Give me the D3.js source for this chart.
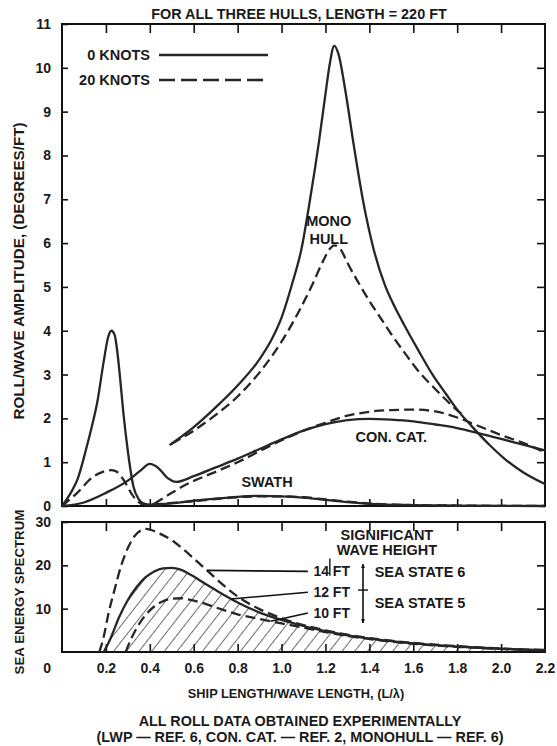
<!DOCTYPE html>
<html>
<head>
<meta charset="utf-8">
<script src="https://cdn.jsdelivr.net/npm/d3@7"></script>
<style>
  body { margin: 0; background: #fff; }
  text { font-family: "Liberation Sans", Arial, sans-serif; font-weight: bold; fill: #1a1a1a; }
</style>
</head>
<body>
<svg id="chart"></svg>
<script>
// roll / wave amplitude curves, [L/lambda, deg/ft]
const swath0 = [[0,0],[0.04,0.3],[0.07,0.6],[0.11,1.3],[0.14,1.9],[0.16,2.35],[0.19,3.3],[0.21,3.85],[0.225,4.0],[0.24,3.9],[0.25,3.6],[0.265,2.9],[0.28,2.1],[0.3,1.25],[0.325,0.45],[0.35,0.15],[0.37,0.06],[0.4,0.03],[0.45,0.04],[0.5,0.06],[0.6,0.12],[0.7,0.17],[0.8,0.21],[0.9,0.23],[1.0,0.22],[1.1,0.19],[1.2,0.14],[1.3,0.09],[1.4,0.05],[1.6,0.02],[1.8,0.01],[2.2,0]];
const swath20 = [[0,0],[0.067,0.29],[0.143,0.67],[0.2,0.8],[0.226,0.82],[0.25,0.78],[0.28,0.6],[0.325,0.22],[0.37,0.04],[0.42,0.04],[0.5,0.07],[0.6,0.11],[0.7,0.16],[0.8,0.2],[0.9,0.22],[1.0,0.22],[1.1,0.2],[1.2,0.15],[1.3,0.1],[1.4,0.06],[1.6,0.02],[1.8,0.01],[2.2,0]];
const conCat0 = [[0,0],[0.1,0.08],[0.2,0.3],[0.3,0.58],[0.36,0.82],[0.4,0.96],[0.44,0.86],[0.48,0.64],[0.52,0.55],[0.6,0.68],[0.7,0.88],[0.8,1.08],[0.9,1.3],[1.0,1.52],[1.1,1.72],[1.2,1.87],[1.3,1.96],[1.4,1.99],[1.5,1.97],[1.6,1.93],[1.7,1.86],[1.8,1.78],[1.9,1.66],[2.0,1.53],[2.1,1.4],[2.2,1.27]];
const conCat20 = [[0.42,0.05],[0.5,0.3],[0.57,0.5],[0.7,0.78],[0.8,1.0],[0.9,1.25],[1.0,1.5],[1.1,1.72],[1.2,1.9],[1.3,2.06],[1.4,2.15],[1.5,2.19],[1.6,2.2],[1.7,2.16],[1.8,2.02],[1.9,1.82],[2.0,1.62],[2.1,1.44],[2.2,1.22]];
const mono0 = [[0.49,1.39],[0.6,1.8],[0.7,2.25],[0.8,2.75],[0.9,3.35],[0.96,3.85],[1.0,4.3],[1.05,5.1],[1.09,5.85],[1.13,7.0],[1.17,8.3],[1.2,9.4],[1.22,10.1],[1.24,10.5],[1.26,10.3],[1.29,9.5],[1.33,8.2],[1.37,7.0],[1.42,5.85],[1.47,5.05],[1.52,4.5],[1.56,4.12],[1.62,3.58],[1.69,2.98],[1.75,2.55],[1.8,2.2],[1.87,1.8],[1.95,1.38],[2.02,1.06],[2.1,0.77],[2.2,0.5]];
const mono20 = [[0.5,1.42],[0.6,1.72],[0.7,2.08],[0.8,2.5],[0.9,3.05],[1.0,3.75],[1.08,4.45],[1.14,5.05],[1.19,5.6],[1.22,5.87],[1.24,5.95],[1.27,5.85],[1.3,5.55],[1.35,5.1],[1.4,4.68],[1.45,4.3],[1.5,3.92],[1.56,3.5],[1.62,3.1],[1.69,2.72],[1.75,2.42],[1.8,2.18],[1.83,2.07]];

// sea energy spectra
const wave14 = [[0.17,0],[0.19,3.5],[0.21,8.5],[0.24,14.5],[0.27,20],[0.3,24],[0.33,26.7],[0.36,28.1],[0.38,28.4],[0.41,28.1],[0.45,27.2],[0.5,25.8],[0.55,23.8],[0.6,21.6],[0.65,19.3],[0.7,17],[0.75,14.8],[0.8,12.8],[0.9,9.9],[1.0,7.8],[1.1,6.2],[1.2,5.0],[1.3,4.0],[1.4,3.2],[1.5,2.6],[1.6,2.1],[1.7,1.7],[1.8,1.35],[1.9,1.05],[2.0,0.8],[2.1,0.6],[2.2,0.45]];
const wave12 = [[0.19,0],[0.22,3],[0.26,8],[0.3,12],[0.34,15],[0.38,17.2],[0.42,18.6],[0.46,19.3],[0.5,19.4],[0.54,19],[0.58,18],[0.62,16.8],[0.66,15.5],[0.7,14.3],[0.75,12.8],[0.8,11.4],[0.9,9.1],[1.0,7.4],[1.1,6.0],[1.2,4.8],[1.3,3.85],[1.4,3.1],[1.5,2.5],[1.6,2.0],[1.7,1.6],[1.8,1.25],[1.9,0.98],[2.0,0.75],[2.1,0.55],[2.2,0.4]];
const wave10 = [[0.29,0],[0.31,2.5],[0.34,5.5],[0.38,8.5],[0.42,10.5],[0.46,11.7],[0.5,12.3],[0.54,12.4],[0.58,12.1],[0.62,11.6],[0.66,11],[0.7,10.3],[0.8,8.7],[0.9,7.6],[1.0,6.6],[1.1,5.6],[1.2,4.6],[1.3,3.7],[1.4,3.0],[1.5,2.4],[1.6,1.9],[1.7,1.5],[1.8,1.2],[1.9,0.92],[2.0,0.7],[2.1,0.52],[2.2,0.38]];

const xTicks = [0.2,0.4,0.6,0.8,1.0,1.2,1.4,1.6,1.8,2.0,2.2];
const topYTicks = [0,1,2,3,4,5,6,7,8,9,10,11];
const botYTicks = [10,20,30];
const legendLabels = ["0 KNOTS", "20 KNOTS"];
const waveLabels = ["14 FT", "12 FT", "10 FT"];
const seaStates = ["SEA STATE 6", "SEA STATE 5"];

const W = 557, H = 746;
const svg = d3.select("#chart").attr("width", W).attr("height", H);

const x = d3.scaleLinear().domain([0, 2.2]).range([62, 545]);
const yTop = d3.scaleLinear().domain([0, 11]).range([506, 24]);
const yBot = d3.scaleLinear().domain([0, 30]).range([652, 522]);

const ink = "#262626";
const dash = "10,5";
const fs = 14.5;

// hatch pattern for the 12 ft spectrum
svg.append("defs").append("pattern")
    .attr("id", "hatch")
    .attr("patternUnits", "userSpaceOnUse")
    .attr("width", 10).attr("height", 10)
    .attr("patternTransform", "rotate(38)")
  .append("line")
    .attr("x1", 0).attr("y1", 0).attr("x2", 0).attr("y2", 10)
    .attr("stroke", "#1e1e1e").attr("stroke-width", 1.3);

// ---- axes (ticks inside the frame) ----
function styleAxis(g) {
  g.select(".domain").remove();
  g.selectAll("line").attr("stroke", "#111").attr("stroke-width", 1.6);
  g.selectAll("text").attr("font-size", 14).attr("font-family", "Liberation Sans, Arial, sans-serif").attr("font-weight", "bold").attr("fill", "#1a1a1a");
}

// top panel
svg.append("g").attr("transform", "translate(62,0)")
    .call(d3.axisLeft(yTop).tickValues(topYTicks).tickSizeInner(-6).tickSizeOuter(0).tickPadding(11))
    .call(styleAxis);
svg.append("g").attr("transform", "translate(545,0)")
    .call(d3.axisLeft(yTop).tickValues(topYTicks.slice(1, -1)).tickSize(8).tickFormat(""))
    .call(styleAxis);
svg.append("g").attr("transform", "translate(0,24)")
    .call(d3.axisBottom(x).tickValues(xTicks.slice(0, -1)).tickSize(9).tickFormat(""))
    .call(styleAxis);
svg.append("g").attr("transform", "translate(0,506)")
    .call(d3.axisTop(x).tickValues(xTicks.slice(0, -1)).tickSize(7).tickFormat(""))
    .call(styleAxis);

// bottom panel
svg.append("g").attr("transform", "translate(62,0)")
    .call(d3.axisLeft(yBot).tickValues(botYTicks).tickSizeInner(-6).tickSizeOuter(0).tickPadding(11))
    .call(styleAxis);
svg.append("g").attr("transform", "translate(545,0)")
    .call(d3.axisLeft(yBot).tickValues([10, 20]).tickSize(8).tickFormat(""))
    .call(styleAxis);
svg.append("g").attr("transform", "translate(0,522)")
    .call(d3.axisBottom(x).tickValues(xTicks.slice(0, -1)).tickSize(9).tickFormat(""))
    .call(styleAxis);
svg.append("g").attr("transform", "translate(0,652)")
    .call(d3.axisBottom(x).tickValues(xTicks).tickSizeInner(-8).tickSizeOuter(0).tickPadding(11).tickFormat(d3.format(".1f")))
    .call(styleAxis)
    .call(g => g.selectAll(".tick line").filter(d => d === 2.2).remove());

svg.append("text").attr("x", 51).attr("y", yBot(0) + 11).attr("dy", "0.71em")
    .attr("text-anchor", "end").attr("font-size", 14).text("0");

// frames
svg.append("rect").attr("x", x(0)).attr("y", yTop(11)).attr("width", x(2.2) - x(0)).attr("height", yTop(0) - yTop(11))
    .attr("fill", "none").attr("stroke", "#111").attr("stroke-width", 2);
svg.append("rect").attr("x", x(0)).attr("y", yBot(30)).attr("width", x(2.2) - x(0)).attr("height", yBot(0) - yBot(30))
    .attr("fill", "none").attr("stroke", "#111").attr("stroke-width", 2);

// ---- top panel curves ----
const lineTop = d3.line().x(d => x(d[0])).y(d => yTop(d[1])).curve(d3.curveMonotoneX);
const topSeries = [
  { d: swath0, dashed: false }, { d: swath20, dashed: true },
  { d: conCat0, dashed: false }, { d: conCat20, dashed: true },
  { d: mono0, dashed: false }, { d: mono20, dashed: true }
];
svg.append("g").selectAll("path").data(topSeries).join("path")
    .attr("d", s => lineTop(s.d))
    .attr("fill", "none").attr("stroke", ink).attr("stroke-width", 2.3)
    .attr("stroke-dasharray", s => s.dashed ? dash : null);

// legend
legendLabels.forEach((t, i) => {
  const ly = 55 + i * 25;
  svg.append("text").attr("x", 150).attr("y", ly).attr("dy", "0.35em")
      .attr("text-anchor", "end").attr("font-size", fs).text(t);
  svg.append("line").attr("x1", 159).attr("x2", 268).attr("y1", ly).attr("y2", ly)
      .attr("stroke", ink).attr("stroke-width", 2.6)
      .attr("stroke-dasharray", i ? "16,6" : null);
});

// curve labels
const topLabel = (t, xv, yv) => svg.append("text").attr("x", x(xv)).attr("y", yTop(yv)).attr("dy", "0.35em")
    .attr("text-anchor", "middle").attr("font-size", fs).text(t);
topLabel("MONO", 1.215, 6.5);
topLabel("HULL", 1.215, 6.1);
topLabel("CON. CAT.", 1.5, 1.58);
topLabel("SWATH", 0.934, 0.55);

// ---- bottom panel curves ----
const lineBot = d3.line().x(d => x(d[0])).y(d => yBot(d[1])).curve(d3.curveMonotoneX);
const areaBot = d3.area().x(d => x(d[0])).y0(yBot(0)).y1(d => yBot(d[1])).curve(d3.curveMonotoneX);

svg.append("path").attr("d", areaBot(wave12)).attr("fill", "url(#hatch)");
[{ d: wave14, dashed: true }, { d: wave12, dashed: false }, { d: wave10, dashed: true }].forEach(s => {
  svg.append("path").attr("d", lineBot(s.d))
      .attr("fill", "none").attr("stroke", ink).attr("stroke-width", 2.3)
      .attr("stroke-dasharray", s.dashed ? dash : null);
});

// leaders to the wave height labels
const interp = (series, xv) => {
  const i = d3.bisector(d => d[0]).left(series, xv);
  const a = series[Math.max(i - 1, 0)], b = series[Math.min(i, series.length - 1)];
  return a[0] === b[0] ? a[1] : a[1] + (b[1] - a[1]) * (xv - a[0]) / (b[0] - a[0]);
};
const leaders = [
  { s: wave14, from: 0.66, to: 18.6 },
  { s: wave12, from: 0.77, to: 13.8 },
  { s: wave10, from: 0.95, to: 9.0 }
];
leaders.forEach((l, i) => {
  svg.append("line")
      .attr("x1", x(l.from)).attr("y1", yBot(interp(l.s, l.from)))
      .attr("x2", x(1.12)).attr("y2", yBot(l.to))
      .attr("stroke", "#111").attr("stroke-width", 1.6);
  svg.append("text").attr("x", x(1.145)).attr("y", yBot(l.to)).attr("dy", "0.35em")
      .attr("font-size", 14).text(waveLabels[i]);
});

svg.append("text").attr("x", x(1.48)).attr("y", yBot(27)).attr("dy", "0.35em")
    .attr("text-anchor", "middle").attr("font-size", fs).text("SIGNIFICANT");
svg.append("text").attr("x", x(1.48)).attr("y", yBot(23.5)).attr("dy", "0.35em")
    .attr("text-anchor", "middle").attr("font-size", fs).text("WAVE HEIGHT");
svg.append("line").attr("x1", x(1.22)).attr("x2", x(1.22)).attr("y1", yBot(21.6)).attr("y2", yBot(17.6))
    .attr("stroke", "#111").attr("stroke-width", 1.4);

// sea state bracket
const bx = x(1.371);
svg.append("line").attr("x1", bx).attr("x2", bx).attr("y1", yBot(20.3)).attr("y2", yBot(6.7))
    .attr("stroke", "#111").attr("stroke-width", 1.6);
svg.append("line").attr("x1", bx - 5).attr("x2", bx + 5).attr("y1", yBot(14.3)).attr("y2", yBot(14.3))
    .attr("stroke", "#111").attr("stroke-width", 1.4);
[[20.3, -1], [6.7, 1]].forEach(([v, s]) => {
  const py = yBot(v);
  svg.append("path").attr("d", `M${bx - 2},${py - s * 4}L${bx},${py}L${bx + 2},${py - s * 4}Z`).attr("fill", "#111");
});
seaStates.forEach((t, i) => {
  svg.append("text").attr("x", x(1.424)).attr("y", yBot(i ? 11.3 : 18.5)).attr("dy", "0.35em")
      .attr("font-size", fs).text(t);
});

// ---- titles ----
svg.append("text").attr("x", 299).attr("y", 14).attr("dy", "0.35em").attr("text-anchor", "middle")
    .attr("font-size", 14.4).text("FOR ALL THREE HULLS, LENGTH = 220 FT");
svg.append("text").attr("transform", `translate(19,${271}) rotate(-90)`)
    .attr("dy", "0.35em").attr("text-anchor", "middle").attr("font-size", 15.2)
    .text("ROLL/WAVE AMPLITUDE, (DEGREES/FT)");
svg.append("text").attr("transform", `translate(19,592) rotate(-90)`)
    .attr("dy", "0.35em").attr("text-anchor", "middle").attr("font-size", 13.3)
    .text("SEA ENERGY SPECTRUM");
svg.append("text").attr("x", 296).attr("y", 694).attr("dy", "0.35em").attr("text-anchor", "middle")
    .attr("font-size", 12.8).text("SHIP LENGTH/WAVE LENGTH, (L/\u03bb)");
svg.append("text").attr("x", 300).attr("y", 721).attr("dy", "0.35em").attr("text-anchor", "middle")
    .attr("font-size", 14.4).text("ALL ROLL DATA OBTAINED EXPERIMENTALLY");
svg.append("text").attr("x", 300).attr("y", 737).attr("dy", "0.35em").attr("text-anchor", "middle")
    .attr("font-size", 14.4).text("(LWP \u2014 REF. 6, CON. CAT. \u2014 REF. 2, MONOHULL \u2014 REF. 6)");
</script>
</body>
</html>
